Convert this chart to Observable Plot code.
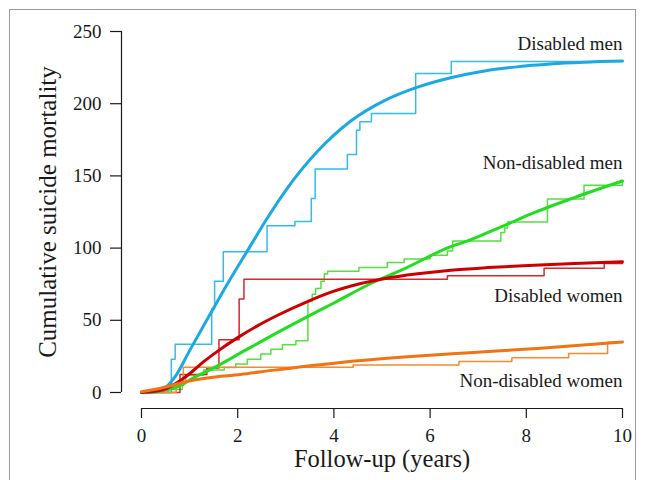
<!DOCTYPE html>
<html>
<head>
<meta charset="utf-8">
<script src="https://cdn.jsdelivr.net/npm/d3@7"></script>
<script src="https://cdn.jsdelivr.net/npm/@observablehq/plot@0.6"></script>
<style>
  html, body { margin: 0; padding: 0; background: #fff; }
  #wrap { position: relative; width: 652px; height: 480px; overflow: hidden; }
  #border { position: absolute; left: 9px; top: 9px; width: 627px; height: 500px; border: 1px solid #9a9a9a; box-sizing: border-box; pointer-events: none; }
  #chart { position: absolute; left: 0; top: 0; }
</style>
</head>
<body>
<div id="wrap"><div id="chart"></div><div id="border"></div></div>
<script>
// Tick values
const xTicks = [0, 2, 4, 6, 8, 10];
const yTicks = [0, 50, 100, 150, 200, 250];

// Group names (labels at right)
const groups = ["Disabled men", "Non-disabled men", "Disabled women", "Non-disabled women"];
const labelY = [237, 155, 62.5, 3.5];

// Observed step curves (years, cumulative mortality)
const dmStepT = [0, 0.62, 0.70, 1.46, 1.52, 1.70, 2.61, 3.19, 3.53, 3.61, 4.28, 4.47, 4.54, 4.78, 5.70, 6.44, 10];
const dmStepV = [0, 23, 33.5, 58, 77, 97.5, 115.4, 118.5, 134.3, 154.7, 164.8, 181.7, 187.5, 193.2, 220.9, 229.2, 229.2];

const ndmStepT = [0, 0.55, 0.85, 0.92, 1.29, 1.72, 1.96, 2.2, 2.48, 2.69, 2.93, 3.21, 3.46, 3.55, 3.62, 3.73, 3.80, 3.87, 4.52, 5.11, 5.46, 6.0, 6.36, 6.47, 7.47, 7.55, 7.61, 8.44, 9.2, 10];
const ndmStepV = [0, 2, 7, 12, 15.5, 17.3, 19.7, 23.1, 26.6, 30, 33, 35.8, 63, 68, 72, 77, 82, 84, 86.6, 90, 92.4, 95, 98, 105, 110.8, 114, 118, 134, 143.5, 146];

const dwStepT = [0, 0.80, 1.36, 1.61, 2.03, 2.13, 6.36, 8.37, 9.62, 10];
const dwStepV = [0, 12.5, 17, 36.5, 64.7, 78.5, 80.8, 86.1, 89.3, 89.3];

const ndwStepT = [0, 0.72, 0.87, 4.4, 6.6, 7.7, 8.88, 9.69, 10];
const ndwStepV = [0, 5, 17.5, 19, 21.5, 24, 27, 34.8, 34.8];

// Fitted smooth curves
const dmFitT = [0, 0.25, 0.4, 0.55, 0.7, 1.0, 1.44, 1.8, 2.2, 2.62, 3.0, 3.66, 4.35, 5.04, 5.74, 6.43, 7.1, 7.8, 8.5, 9.2, 10];
const dmFitV = [0, 0.4, 1.5, 5, 11, 29, 55, 76, 98, 121, 140, 167, 188, 202, 211.5, 218, 222.5, 225.5, 227.5, 228.7, 229.5];

const ndmFitT = [0, 0.4, 0.82, 1.02, 1.5, 2.2, 2.69, 3.45, 4.0, 4.8, 5.39, 6.43, 6.78, 7.5, 8.16, 9.0, 10];
const ndmFitV = [0, 1, 5, 9, 17, 30, 39, 52.5, 62, 76, 84.5, 101, 105, 115, 124.5, 135, 146.5];

const dwFitT = [0, 0.4, 0.7, 1.0, 1.3, 1.6, 2.0, 2.4, 2.83, 3.45, 3.94, 4.56, 5.04, 5.74, 6.43, 7.2, 8.16, 9.0, 10];
const dwFitV = [0, 1.5, 6, 13, 21.5, 29, 38, 46, 53.5, 63, 69.5, 75.5, 78.8, 82.2, 84.7, 86.5, 88.2, 89.4, 90.5];

const ndwFitT = [0, 0.4, 1.0, 1.37, 2.06, 2.76, 4.14, 5.53, 6.91, 8.3, 10];
const ndwFitV = [0.5, 3, 8, 10, 12.5, 15.5, 20.8, 24.7, 27.7, 30.7, 35];

const fitColors = ["#1aa9e0", "#22dd22", "#cc0000", "#f07414"];
const stepColors = ["#33bbee", "#55e040", "#d42a2a", "#f58a30"];

const zip = (t, v) => t.map((x, i) => ({x, y: v[i]}));
const steps = [zip(dmStepT, dmStepV), zip(ndmStepT, ndmStepV), zip(dwStepT, dwStepV), zip(ndwStepT, ndwStepV)];
const fits = [zip(dmFitT, dmFitV), zip(ndmFitT, ndmFitV), zip(dwFitT, dwFitV), zip(ndwFitT, ndwFitV)];
const labels = groups.map((g, i) => ({g, x: 10, y: labelY[i]}));

const marks = [];
steps.forEach((d, i) => marks.push(Plot.line(d, {x: "x", y: "y", curve: "step-after", stroke: stepColors[i], strokeWidth: 1.5})));
fits.forEach((d, i) => marks.push(Plot.line(d, {x: "x", y: "y", curve: "monotone-x", stroke: fitColors[i], strokeWidth: 3})));

const chart = Plot.plot({
  width: 652,
  height: 480,
  marginLeft: 141,
  marginRight: 30,
  marginTop: 31,
  marginBottom: 88,
  style: {fontFamily: "'Liberation Serif', 'Times New Roman', serif", color: "#1a1a1a", background: "white"},
  x: {domain: [0, 10], axis: null},
  y: {domain: [0, 250], axis: null},
  marks: [
    // x axis (detached, R style)
    Plot.ruleY([0], {x1: 0, x2: 10, dy: 16, stroke: "#1a1a1a", strokeWidth: 1.2}),
    Plot.axisX(xTicks, {anchor: "bottom", dy: 16, tickSize: 10, tickPadding: 10, fontSize: 19, strokeWidth: 1.2, label: null}),
    // y axis
    Plot.ruleX([0], {y1: 0, y2: 250, dx: -20, stroke: "#1a1a1a", strokeWidth: 1.2}),
    Plot.axisY(yTicks, {anchor: "left", dx: -20, tickSize: 11, tickPadding: 9, fontSize: 19, strokeWidth: 1.2, label: null}),
    Plot.text(["Follow-up (years)"], {frameAnchor: "bottom", dy: 74, fontSize: 24.5, lineAnchor: "bottom", textAnchor: "middle", fill: "#1a1a1a"}),
    Plot.text(["Cumulative suicide mortality"], {frameAnchor: "left", dx: -94, rotate: -90, textAnchor: "middle", fontSize: 25, fill: "#1a1a1a"}),
    ...marks,
    Plot.text(labels, {x: "x", y: "y", text: "g", textAnchor: "end", lineAnchor: "bottom", fontSize: 19, fill: "#1a1a1a"})
  ]
});
document.getElementById("chart").appendChild(chart);
</script>
</body>
</html>
